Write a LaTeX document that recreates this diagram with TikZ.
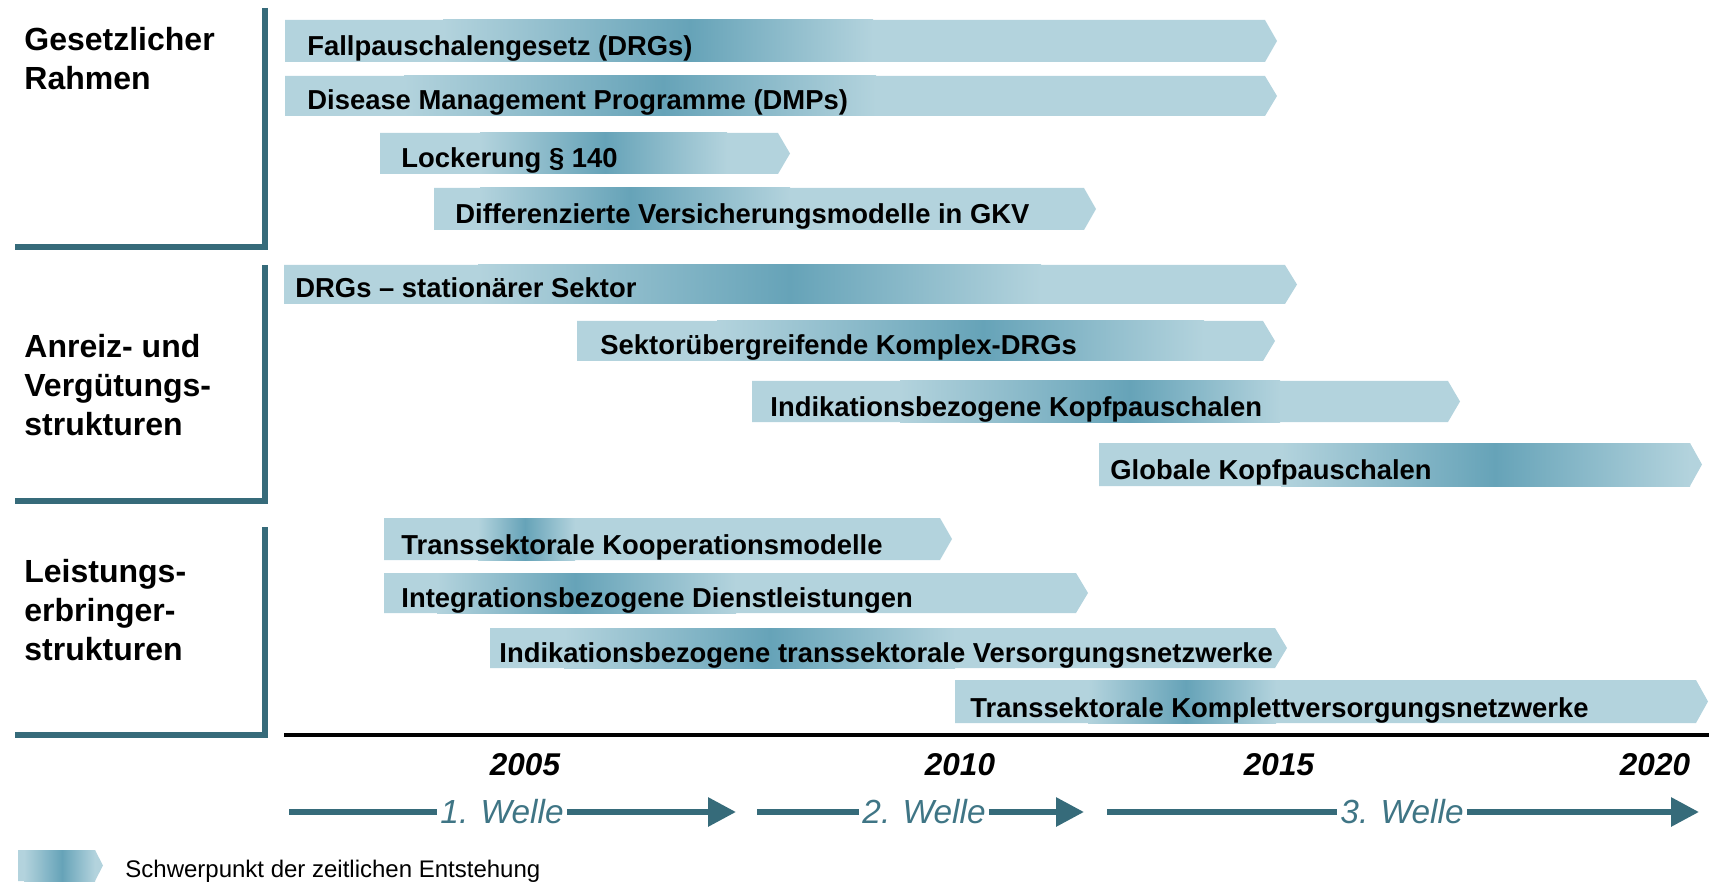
\documentclass[tikz,border=0pt]{standalone}
\usepackage{fontspec}
\setmainfont{Liberation Sans}
\usetikzlibrary{arrows.meta}
\definecolor{barlight}{HTML}{B3D3DD}
\definecolor{bardark}{HTML}{66A3B8}
\definecolor{bracketc}{HTML}{366B7A}
\definecolor{wavetext}{HTML}{3F7585}
\tikzset{
  bartext/.style={anchor=base west,inner sep=0pt,font=\bfseries\fontsize{13.7}{16}\selectfont},
  leftlab/.style={anchor=north west,inner sep=0pt,align=left,font=\bfseries\fontsize{16}{19.5}\selectfont},
  yearlab/.style={inner sep=0pt,font=\bfseries\itshape\fontsize{15.75}{18}\selectfont},
  wavelab/.style={inner sep=1.5pt,text=wavetext,font=\itshape\fontsize{16.7}{20}\selectfont},
  bracketline/.style={draw=bracketc,line width=2.6pt},
  axisline/.style={draw=black,line width=2pt},
  waveline/.style={draw=bracketc,line width=3pt},
  wavehead/.style={waveline,-{Triangle[length=14pt,width=14pt]}},
}
% #1 x0, #2 tip, #3 top, #4 bottom, #5 shade start, #6 peak, #7 shade end
\newcommand\gbar[7]{%
  \fill[barlight] (#1,#3) -- ({#2-12},#3) -- (#2,{(#3+#4)/2}) -- ({#2-12},#4) -- (#1,#4) -- cycle;
  \shade[left color=barlight,right color=bardark] (#5,#3) rectangle (#6,#4);
  \shade[left color=bardark,right color=barlight] (#6,#3) rectangle (#7,#4);
}
\begin{document}
\begin{tikzpicture}[x=0.5pt,y=-0.5pt]
\useasboundingbox (0,0) rectangle (1709,882);
% brackets
\draw[bracketline] (265,8) |- (15,247);
\draw[bracketline] (265,265) |- (15,501);
\draw[bracketline] (265,527) |- (15,735);
% section labels
\node[leftlab] (sec1) at (24,27) {Gesetzlicher\\Rahmen};
\node[leftlab] (sec2) at (24,334) {Anreiz- und\\Vergütungs-\\strukturen};
\node[leftlab] (sec3) at (24,559) {Leistungs-\\erbringer-\\strukturen};
% bars
\gbar{285}{1277}{20}{62}{443}{690}{873}
\node[bartext] (b1) at (307,56) {Fallpauschalengesetz (DRGs)};
\gbar{285}{1277}{76}{116}{404}{663}{876}
\node[bartext] (b2) at (307,110) {Disease Management Programme (DMPs)};
\gbar{380}{790}{133}{174}{480}{605}{727}
\node[bartext] (b3) at (401,168) {Lockerung § 140};
\gbar{434}{1096}{188}{230}{480}{630}{790}
\node[bartext] (b4) at (455,224) {Differenzierte Versicherungsmodelle in GKV};
\gbar{284}{1297}{265}{304}{478}{790}{1041}
\node[bartext] (b5) at (295,298) {DRGs – stationärer Sektor};
\gbar{577}{1275}{321}{361}{717}{983}{1204}
\node[bartext] (b6) at (600,355) {Sektorübergreifende Komplex-DRGs};
\gbar{752}{1460}{381}{422}{900}{1130}{1280}
\node[bartext] (b7) at (770,416) {Indikationsbezogene Kopfpauschalen};
\gbar{1099}{1702}{443}{486}{1281}{1495}{1690}
\node[bartext] (b8) at (1110,480) {Globale Kopfpauschalen};
\gbar{384}{952}{518}{560}{478}{525}{575}
\node[bartext] (b9) at (401,554) {Transsektorale Kooperationsmodelle};
\gbar{384}{1088}{573}{613}{437}{575}{736}
\node[bartext] (b10) at (401,607) {Integrationsbezogene Dienstleistungen};
\gbar{490}{1287}{628}{668}{564}{770}{955}
\node[bartext] (b11) at (499,662) {Indikationsbezogene transsektorale Versorgungsnetzwerke};
\gbar{955}{1708}{680}{723}{1088}{1186}{1276}
\node[bartext] (b12) at (970,717) {Transsektorale Komplettversorgungsnetzwerke};
% time axis
\draw[axisline] (284,735) -- (1709,735);
\node[yearlab] (y2005) at (525,765) {2005};
\node[yearlab] (y2010) at (960,765) {2010};
\node[yearlab] (y2015) at (1279,765) {2015};
\node[yearlab] (y2020) at (1655,765) {2020};
% waves
\coordinate (w1s) at (289,812);
\coordinate (w1e) at (736,812);
\coordinate (w2s) at (757,812);
\coordinate (w2e) at (1084,812);
\coordinate (w3s) at (1107,812);
\coordinate (w3e) at (1699,812);
\node[wavelab] (w1) at (502,812) {1. Welle};
\node[wavelab] (w2) at (924,812) {2. Welle};
\node[wavelab] (w3) at (1402,812) {3. Welle};
\draw[waveline] (w1s) -- (w1.west);
\draw[wavehead] (w1.east) -- (w1e);
\draw[waveline] (w2s) -- (w2.west);
\draw[wavehead] (w2.east) -- (w2e);
\draw[waveline] (w3s) -- (w3.west);
\draw[wavehead] (w3.east) -- (w3e);
% legend
\fill[barlight] (18,850) -- (95,850) -- (103,865.5) -- (95,881) -- (18,881) -- cycle;
\shade[left color=barlight,right color=bardark] (24,850) rectangle (62,881);
\shade[left color=bardark,right color=barlight] (62,850) rectangle (95,881);
\node[anchor=base west,inner sep=0pt,font=\fontsize{12}{14}\selectfont] (legend) at (125,877) {Schwerpunkt der zeitlichen Entstehung};
\end{tikzpicture}
\end{document}
